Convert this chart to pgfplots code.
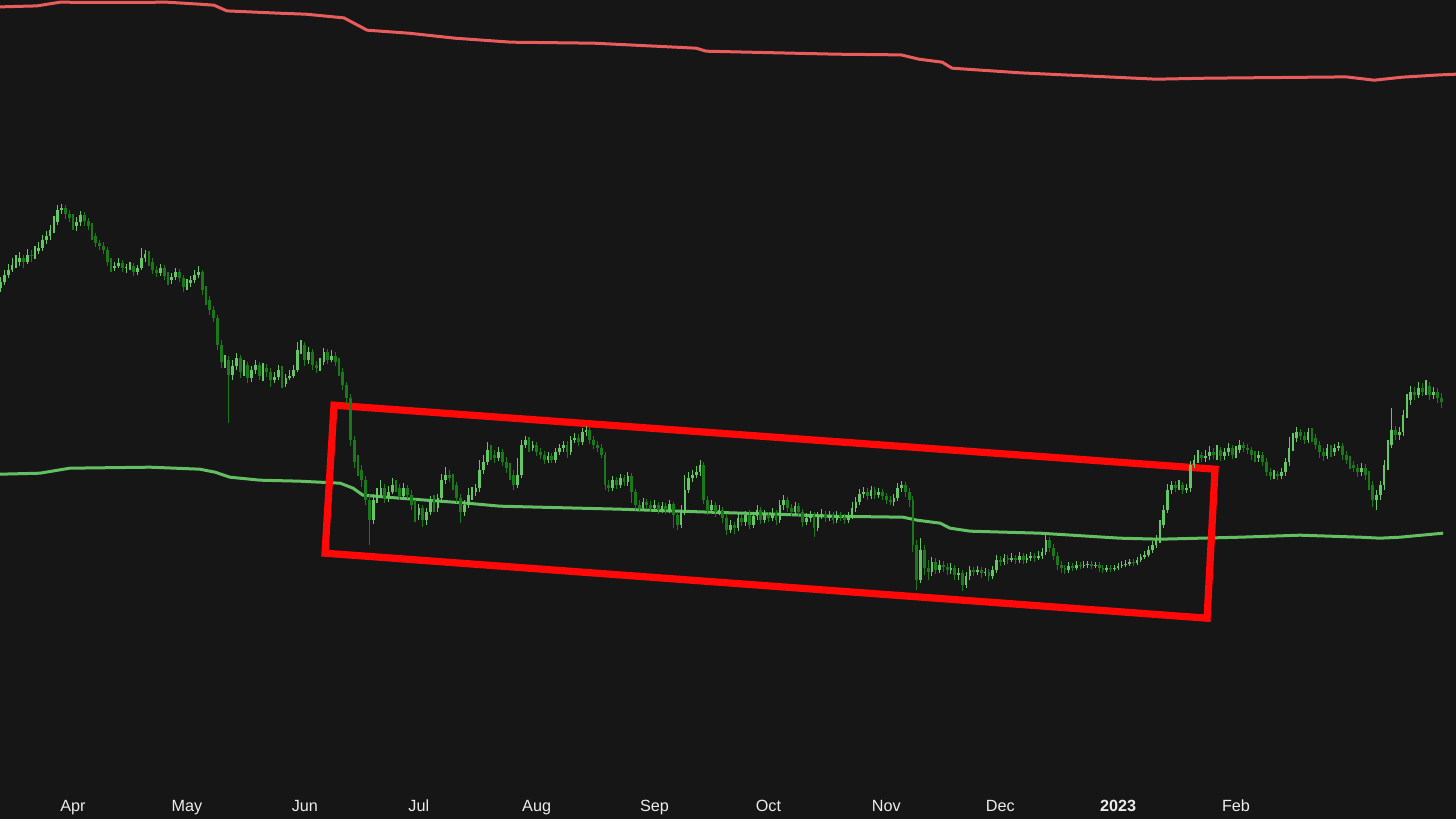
\documentclass[border=0pt]{standalone}
\usepackage{fontspec}
\setmainfont{Liberation Sans}
\usepackage{pgfplots}
\usepackage{pgfplotstable}
\pgfplotsset{compat=1.18}
\definecolor{bg}{RGB}{22,22,22}
\definecolor{upc}{RGB}{100,198,100}
\definecolor{dnc}{RGB}{26,122,26}
\definecolor{bandred}{RGB}{234,92,92}
\definecolor{bandgreen}{RGB}{98,192,98}
\definecolor{boxred}{RGB}{255,8,8}
\definecolor{labelc}{RGB}{236,236,236}

% candles: day, open, close, high, low (screen offsets from top; value = 819 - offset)
\pgfplotstableread{
d o c h l
-19 288 282 277 292
-18 282 275 270 285
-17 275 270 264 278
-16 270 265 258 272
-15 265 262 255 268
-14 262 258 252 266
-13 258 262 255 268
-12 262 255 249 264
-11 255 256 250 262
-10 256 251 246 259
-9 251 248 242 254
-8 248 240 235 251
-7 240 236 231 244
-6 236 230 225 240
-5 230 222 216 233
-4 222 210 205 225
-3 210 208 204 214
-2 208 214 205 219
-1 214 218 210 222
0 218 226 214 230
1 226 222 217 231
2 222 215 211 226
3 215 221 212 226
4 221 226 218 230
5 226 236 223 240
6 236 243 233 247
7 243 246 240 250
8 246 250 242 254
9 250 262 247 266
10 262 268 258 272
11 268 266 262 271
12 266 263 258 268
13 263 268 260 272
14 268 268 264 273
15 268 266 262 270
16 266 272 263 276
17 272 268 265 275
18 268 258 248 270
19 258 254 250 262
20 254 262 251 266
21 262 270 258 274
22 270 273 266 277
23 273 268 264 276
24 268 276 265 280
25 276 280 272 285
26 280 277 273 284
27 277 272 268 280
28 272 278 269 282
29 278 287 275 292
30 287 283 279 290
31 283 280 276 287
32 280 275 270 283
33 275 272 266 278
34 272 290 270 295
35 290 300 286 305
36 300 310 296 315
37 310 318 306 322
38 318 345 315 350
39 345 362 340 368
40 362 360 355 368
41 360 375 356 423
42 375 366 360 380
43 366 358 353 370
44 358 372 355 378
45 372 365 360 376
46 365 378 362 383
47 378 370 366 382
48 370 365 360 374
49 365 376 362 380
50 376 368 363 381
51 368 372 364 377
52 372 380 368 387
53 380 377 372 383
54 377 370 365 380
55 370 384 366 388
56 384 378 374 387
57 378 376 370 380
58 376 370 365 378
59 370 350 342 372
60 350 345 340 354
61 345 360 342 366
62 360 352 347 364
63 352 365 349 370
64 365 368 361 373
65 368 362 358 371
66 362 352 348 365
67 352 360 349 364
68 360 356 350 362
69 356 362 352 366
70 362 372 358 376
71 372 385 368 390
72 385 398 382 404
73 398 440 394 446
74 440 462 436 468
75 462 470 455 476
76 470 480 465 487
77 480 500 476 505
78 500 520 495 545
79 520 500 494 524
80 500 495 488 503
81 495 488 480 497
82 488 498 484 503
83 498 492 486 502
84 492 485 478 494
85 485 488 480 492
86 488 496 484 500
87 496 488 483 500
88 488 495 485 499
89 495 505 490 510
90 505 515 500 522
91 515 508 504 520
92 508 520 505 527
93 520 512 508 525
94 512 500 496 515
95 500 508 495 512
96 508 498 494 512
97 498 480 474 502
98 480 475 467 484
99 475 478 470 482
100 478 485 474 490
101 485 498 482 503
102 498 512 494 523
103 512 505 500 516
104 505 495 488 508
105 495 492 487 500
106 492 488 484 496
107 488 470 460 492
108 470 462 455 474
109 462 450 442 465
110 450 455 445 460
111 455 458 450 463
112 458 452 447 461
113 452 462 449 466
114 462 468 457 473
115 468 475 463 480
116 475 485 470 490
117 485 475 458 488
118 475 445 440 478
119 445 440 436 448
120 440 448 437 452
121 448 445 441 451
122 445 452 442 456
123 452 455 448 459
124 455 460 451 464
125 460 456 452 463
126 456 460 453 463
127 460 452 448 463
128 452 448 444 455
129 448 445 441 452
130 445 452 441 458
131 452 440 436 455
132 440 438 433 443
133 438 442 434 446
134 442 432 428 445
135 432 430 426 436
136 430 440 427 444
137 440 445 436 449
138 445 448 441 452
139 448 455 444 458
140 455 485 452 490
141 485 488 480 492
142 488 480 476 491
143 480 485 477 489
144 485 478 474 488
145 478 482 475 486
146 482 476 472 486
147 476 492 473 503
148 492 505 489 510
149 505 508 500 512
150 508 502 498 511
151 502 505 499 509
152 505 508 501 512
153 508 505 500 511
154 505 510 502 514
155 510 506 502 513
156 506 510 503 514
157 510 504 500 513
158 504 515 502 528
159 515 525 512 530
160 525 512 505 528
161 512 490 475 515
162 490 478 472 493
163 478 475 470 482
164 475 472 466 478
165 472 465 460 476
166 465 500 462 504
167 500 510 496 515
168 510 505 500 513
169 505 512 502 517
170 512 510 505 515
171 510 518 507 523
172 518 530 514 535
173 530 525 520 533
174 525 528 522 534
175 528 518 514 531
176 518 522 515 526
177 522 515 511 526
178 515 525 510 529
179 525 516 512 528
180 516 510 505 520
181 510 520 507 524
182 520 515 510 523
183 515 518 512 522
184 518 513 508 521
185 513 520 510 525
186 520 505 500 523
187 505 500 495 510
188 500 508 497 512
189 508 512 504 516
190 512 506 502 515
191 506 512 503 516
192 512 522 509 527
193 522 518 513 525
194 518 515 511 522
195 515 528 512 537
196 528 516 512 531
197 516 514 509 519
198 514 518 511 522
199 518 515 511 521
200 515 520 512 524
201 520 515 511 523
202 515 517 512 521
203 517 520 514 524
204 520 516 512 523
205 516 508 502 519
206 508 502 497 512
207 502 494 489 505
208 494 492 487 498
209 492 496 488 500
210 496 490 486 499
211 490 495 487 499
212 495 492 488 498
213 492 496 489 500
214 496 500 493 504
215 500 502 496 505
216 502 498 494 506
217 498 488 483 501
218 488 485 481 492
219 485 492 482 497
220 492 500 488 507
221 500 545 496 552
222 545 580 540 590
223 580 550 538 583
224 550 568 545 575
225 568 572 560 580
226 572 562 557 576
227 562 570 558 574
228 570 565 560 573
229 565 567 561 572
230 567 570 563 575
231 570 568 563 574
232 568 575 565 580
233 575 573 568 580
234 573 585 570 591
235 585 576 572 588
236 576 570 566 580
237 570 572 567 576
238 572 570 566 575
239 570 573 567 578
240 573 572 568 576
241 572 576 569 581
242 576 570 566 579
243 570 560 555 573
244 560 562 556 566
245 562 558 554 565
246 558 560 555 564
247 560 558 553 562
248 558 560 555 564
249 560 556 552 563
250 556 560 553 564
251 560 558 554 563
252 558 556 552 561
253 556 558 553 562
254 558 556 551 560
255 556 552 548 559
256 552 540 535 555
257 540 548 537 552
258 548 556 544 560
259 556 565 552 570
260 565 568 561 573
261 568 570 565 574
262 570 566 562 573
263 566 568 563 571
264 568 565 561 570
265 565 566 562 569
266 566 565 561 568
267 565 564 561 568
268 564 566 561 569
269 566 565 562 568
270 565 568 562 572
271 568 570 565 573
272 570 568 565 572
273 568 569 565 572
274 569 568 565 571
275 568 566 563 570
276 566 565 561 568
277 565 564 560 567
278 564 562 559 566
279 562 563 559 566
280 563 560 557 565
281 560 557 554 562
282 557 555 551 559
283 555 550 546 557
284 550 545 541 553
285 545 540 535 548
286 540 525 520 543
287 525 510 505 528
288 510 490 484 513
289 490 485 481 494
290 485 488 481 492
291 488 485 480 490
292 485 490 482 494
293 490 488 484 493
294 488 465 461 492
295 465 460 455 468
296 460 455 450 463
297 455 458 452 462
298 458 456 450 462
299 456 452 446 460
300 452 455 448 459
301 455 450 445 460
302 450 456 447 461
303 456 452 448 460
304 452 448 443 456
305 448 455 445 459
306 455 450 446 458
307 450 445 440 453
308 445 448 442 452
309 448 450 444 454
310 450 455 447 460
311 455 458 451 462
312 458 455 451 462
313 455 462 452 466
314 462 472 458 476
315 472 476 468 480
316 476 474 470 479
317 474 476 471 480
318 476 472 468 479
319 472 462 458 476
320 462 448 437 466
321 448 438 433 451
322 438 432 427 442
323 432 436 429 440
324 436 440 432 444
325 440 432 428 443
326 432 438 428 442
327 438 445 434 449
328 445 452 441 458
329 452 456 448 461
330 456 448 444 459
331 448 452 445 457
332 452 448 444 456
333 448 446 442 451
334 446 455 443 460
335 455 460 451 464
336 460 465 456 469
337 465 468 461 472
338 468 472 464 477
339 472 468 463 476
340 468 475 464 480
341 475 485 471 490
342 485 500 481 507
343 500 495 490 510
344 495 485 481 500
345 485 465 460 490
346 465 445 440 470
347 445 430 408 448
348 430 435 426 440
349 435 432 427 440
350 432 415 410 436
351 415 400 394 418
352 400 392 386 405
353 392 395 387 400
354 395 388 382 398
355 388 392 383 396
356 392 386 380 395
357 386 395 382 400
358 395 392 387 399
359 392 398 388 403
360 398 402 393 408
}\candles

\pgfplotstableread{
d p
-19.2 6.7
-9.5 5.7
-3.4 2
10 2.3
24.7 2
33.4 4
37.1 5
40.5 10.7
54.2 13
61.3 14
71.3 17.7
77.4 30
88.4 33
100.5 38
115.3 42
137.1 43
164 48
166.6 51
200.8 54
217.9 54.7
222.6 59
228.7 62
231.3 68
249.5 72.7
273.9 77
285 79
298.4 78
335 76.7
342.4 80
349.7 77
359.5 74.7
363.9 74
}\redband

\pgfplotstableread{
d p
-19.2 474
-8.7 473
-0.8 468
20.3 467
33.4 469
37.4 472
41.3 477
49.2 480
59.7 481
70.3 483
73.7 488
76.3 495
86 498
103.7 503
112.4 506
143.9 509
167.6 512
185.3 514
199.2 516
218.4 517
222.1 520
228.2 523
230.8 528
236.1 531
254.5 533
275.5 538
286 539
307.1 537
322.9 535
338.7 537
343.9 538
349.2 537
360.5 533
}\greenband

\begin{document}
\begin{tikzpicture}
\begin{axis}[
  width=728pt, height=409.5pt, scale only axis,
  xmin=-19.2, xmax=363.9, ymin=0, ymax=819,
  axis background/.style={fill=bg},
  axis line style={draw=none},
  ytick=\empty,
  xtick={0,30,61,91,122,153,183,214,244,275,306},
  xticklabels={Apr,May,Jun,Jul,Aug,Sep,Oct,Nov,Dec,\textbf{2023},Feb},
  major tick length=0pt,
  xticklabel style={anchor=base, yshift=4pt, font=\fontsize{8.1}{9}\selectfont, text=labelc},
  clip=true,
]
% bands
\addplot[bandred, line width=1.5pt, mark=none] table[x=d, y expr={819-\thisrow{p}}] {\redband};
\addplot[bandgreen, line width=1.5pt, mark=none] table[x=d, y expr={819-\thisrow{p}}] {\greenband};
% highlight box
\addplot[boxred, line width=3.6pt, line join=miter, mark=none] coordinates {(68.68,414) (300.5,350) (298.4,201) (66.32,266)} -- cycle;
% wicks (up)
\addplot[draw=none, mark=none, forget plot,
  restrict expr to domain={\thisrow{o}-\thisrow{c}}{0:2000},
  error bars/.cd, y dir=plus, y explicit, error mark=none,
  error bar style={draw=upc, line width=0.55pt}]
  table[x=d, y expr={819-\thisrow{l}}, y error expr={\thisrow{l}-\thisrow{h}}] {\candles};
% wicks (down)
\addplot[draw=none, mark=none, forget plot,
  restrict expr to domain={\thisrow{o}-\thisrow{c}}{-2000:-0.5},
  error bars/.cd, y dir=plus, y explicit, error mark=none,
  error bar style={draw=dnc, line width=0.55pt}]
  table[x=d, y expr={819-\thisrow{l}}, y error expr={\thisrow{l}-\thisrow{h}}] {\candles};
% bodies (up)
\addplot[draw=none, mark=none, forget plot,
  restrict expr to domain={\thisrow{o}-\thisrow{c}}{0:2000},
  error bars/.cd, y dir=plus, y explicit, error mark=none,
  error bar style={draw=upc, line width=1.3pt}]
  table[x=d, y expr={819-max(\thisrow{o},\thisrow{c})}, y error expr={max(abs(\thisrow{o}-\thisrow{c}),1.5)}] {\candles};
% bodies (down)
\addplot[draw=none, mark=none, forget plot,
  restrict expr to domain={\thisrow{o}-\thisrow{c}}{-2000:-0.5},
  error bars/.cd, y dir=plus, y explicit, error mark=none,
  error bar style={draw=dnc, line width=1.4pt}]
  table[x=d, y expr={819-max(\thisrow{o},\thisrow{c})}, y error expr={max(abs(\thisrow{o}-\thisrow{c}),1.5)}] {\candles};
\end{axis}
\end{tikzpicture}
\end{document}
